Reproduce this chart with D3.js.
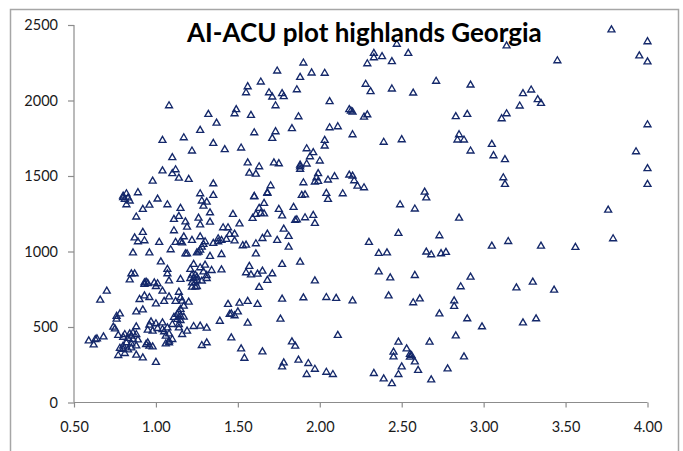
<!DOCTYPE html>
<html>
<head>
<meta charset="utf-8">
<script src="https://cdn.jsdelivr.net/npm/d3@7"></script>
<style>
html, body { margin: 0; padding: 0; background: #fff; overflow: hidden; }
</style>
</head>
<body>
<div id="chart"></div>
<script>
const titleText = "AI-ACU plot highlands Georgia"
const xTicks = [0.5, 1, 1.5, 2, 2.5, 3, 3.5, 4]
const yTicks = [0, 500, 1000, 1500, 2000, 2500]

// same order in both arrays
const aiValues = [
	3.78, 4.00, 3.95, 4.00, 3.45, 3.14, 2.47, 2.54, 2.33, 2.33,
	2.38, 2.44, 2.29, 2.71, 2.92, 2.28, 2.31, 2.44, 2.57, 3.29,
	3.24, 3.33, 3.35, 3.22, 3.14, 3.11, 2.90, 2.83, 2.29, 2.27,
	2.19, 2.20, 4.00, 2.20, 2.39, 2.50, 2.85, 2.84, 2.88, 2.92,
	3.05, 3.06, 3.13, 3.93, 4.00, 4.00, 3.12, 3.13, 2.20, 2.21,
	2.23, 2.27, 2.64, 2.65, 2.49, 2.58, 3.76, 2.85,
	2.48, 2.73, 2.30, 2.36, 2.41, 2.65, 2.68, 2.74, 2.77, 3.05,
	3.15, 3.35, 3.56, 3.79, 2.36, 2.43, 2.58, 2.92, 2.86, 3.20,
	3.30, 3.43, 2.20, 2.42, 2.57, 2.61, 2.82, 2.82, 2.73, 2.90,
	2.99, 3.24, 3.32, 2.83, 2.67, 2.48, 2.53, 2.45, 2.45, 2.55,
	2.55, 2.56, 2.58, 2.88, 2.50, 2.60, 2.78, 2.33, 2.48, 2.39,
	2.44, 2.68,
	1.60, 1.68, 1.89, 1.91, 2.04, 2.14, 2.05, 1.66, 1.84, 1.75,
	1.77, 1.63, 1.64, 1.66, 1.61, 1.59, 1.47, 1.51, 1.85, 1.86,
	1.91, 1.96, 1.97, 1.78, 1.81, 1.74, 1.81, 1.68, 1.65, 1.48,
	1.48, 1.61, 1.53, 1.55, 1.61, 1.77, 1.88, 1.57, 1.55, 1.58,
	1.62, 1.65, 1.71, 1.68, 1.63, 1.97, 1.77, 1.90, 2.04, 2.10,
	1.51, 1.56, 1.62, 1.50, 1.48, 1.46, 1.56, 1.76, 2.11, 1.83,
	1.85, 1.46, 1.52, 1.54, 1.65, 1.78, 1.77, 1.87, 1.93, 1.97,
	1.92, 2.04, 2.08,
	1.90, 1.74, 1.95, 2.03, 1.64, 1.88, 1.86, 1.56, 1.55, 1.69,
	1.71, 1.77, 1.78, 1.73, 2.06, 2.18, 1.08, 1.32, 1.49, 1.48,
	1.58, 1.37, 1.87, 2.06, 2.11, 1.27, 1.60, 1.73, 1.83, 1.71,
	1.04, 1.17, 1.35, 1.22, 1.42, 1.52, 2.03, 2.03, 1.92, 1.96,
	1.94, 2.00, 1.92, 1.88, 1.88, 1.88, 1.10, 1.04, 1.12, 1.10,
	1.14, 1.20, 0.98, 1.35, 1.56, 1.63, 1.57, 1.61, 1.72, 1.75,
	1.70, 1.68, 1.60, 1.99, 1.98, 1.97, 1.99, 1.90, 2.05, 2.09,
	2.18, 0.89, 0.80, 0.82, 0.80, 0.81, 0.83, 0.84, 0.82, 1.01,
	0.96, 1.07, 0.92, 1.15, 1.27, 1.35, 1.28, 1.31, 1.29,
	0.88, 1.11, 1.14, 1.18, 1.19, 1.11, 0.92, 0.87, 0.89, 0.93,
	1.02, 1.17, 1.12, 1.15, 1.16, 1.22, 1.27, 1.30, 1.35, 1.38,
	1.40, 1.38, 1.41, 1.44, 1.26, 1.27, 1.33, 1.33, 1.45, 1.43,
	0.86, 0.96, 1.09, 1.18, 1.19, 1.26, 1.27, 1.28, 1.29, 1.25,
	1.33, 1.40, 1.03, 1.07, 1.07, 0.85, 0.87, 0.84, 1.08, 1.15,
	1.23, 1.21, 1.27, 1.30, 1.29, 1.34, 1.40, 1.31, 1.31,
	1.22, 1.24, 1.25, 1.21, 1.23, 1.25, 1.28, 1.22, 1.24, 1.22,
	1.24, 1.25, 0.93, 0.94, 0.93, 0.95, 0.99, 1.01, 1.00, 1.04,
	1.14, 0.70, 0.66, 0.90, 0.93, 0.96, 1.08, 1.05, 1.00, 1.12,
	1.15, 1.16, 1.20, 1.17, 1.44, 0.88, 0.92, 1.45, 0.76, 0.78,
	0.76, 1.15, 1.14, 1.13, 1.11, 1.15, 1.17, 1.15, 1.13, 1.10,
	1.14, 1.14, 1.39, 1.23, 1.27, 1.31, 1.19, 1.16, 0.74, 0.75,
	0.88, 0.97, 1.00, 1.04, 0.95, 0.98, 0.96, 1.01, 1.04, 1.07,
	1.05, 1.08, 1.06, 1.10, 1.08, 1.06, 1.08, 0.95, 0.94, 0.96,
	0.98, 1.28, 1.31, 0.59, 0.62, 0.63, 0.64, 0.68,
	0.77, 0.80, 0.81, 0.84, 0.86, 0.85, 0.88, 0.83, 0.86, 0.89,
	0.82, 0.85, 0.88, 0.78, 0.80, 0.80, 0.83, 0.85, 0.81, 0.77,
	0.88, 0.92, 1.00
]
const acuValues = [
	2474, 2396, 2302, 2262, 2270, 2368, 2379, 2319, 2319, 2290,
	2297, 2264, 2250, 2134, 2109, 2114, 2065, 2083, 2056, 2076,
	2052, 2012, 1988, 1970, 1919, 1886, 1915, 1900, 1912, 1897,
	1937, 1930, 1846, 1780, 1730, 1747, 1780, 1745, 1745, 1672,
	1716, 1641, 1615, 1667, 1555, 1451, 1495, 1451, 1506, 1475,
	1440, 1429, 1400, 1362, 1316, 1288, 1281, 1228,
	1127, 1111, 1067, 994, 998, 1003, 985, 992, 1001, 1042,
	1073, 1042, 1034, 1091, 872, 832, 848, 837, 773, 766,
	804, 751, 680, 713, 667, 693, 680, 643, 594, 561,
	508, 534, 561, 448, 406, 406, 362, 340, 309, 325,
	307, 318, 276, 309, 243, 219, 229, 199, 192, 163,
	132, 156,
	1372, 1392, 1378, 1382, 1392, 1389, 1352, 1325, 1299, 1286,
	1243, 1292, 1259, 1256, 1252, 1226, 1252, 1190, 1213, 1217,
	1230, 1246, 1193, 1155, 1107, 1080, 1036, 1122, 1093, 1122,
	1077, 1058, 1045, 1049, 991, 921, 936, 908, 866, 852,
	857, 877, 859, 815, 769, 812, 691, 700, 702, 696,
	665, 676, 656, 607, 581, 594, 532, 559, 451, 408,
	380, 435, 362, 300, 342, 269, 243, 287, 265, 227,
	192, 207, 192,
	2255, 2202, 2189, 2187, 2129, 2160, 2078, 2098, 2058, 2058,
	2030, 2052, 2032, 1972, 1999, 1946, 1972, 1915, 1946, 1919,
	1908, 1857, 1899, 1826, 1833, 1809, 1793, 1800, 1820, 1756,
	1743, 1760, 1723, 1672, 1681, 1692, 1743, 1705, 1687, 1661,
	1634, 1606, 1586, 1579, 1551, 1568, 1628, 1541, 1548, 1522,
	1493, 1484, 1473, 1455, 1594, 1568, 1526, 1519, 1594, 1588,
	1442, 1396, 1369, 1522, 1495, 1467, 1471, 1462, 1480, 1502,
	1513, 1396, 1374, 1389, 1364, 1352, 1362, 1341, 1316, 1354,
	1314, 1316, 1286, 1292, 1389, 1378, 1341, 1334, 1307,
	1235, 1219, 1239, 1203, 1168, 1144, 1133, 1097, 1071, 1078,
	1067, 1104, 1067, 1071, 1064, 1080, 1104, 1071, 1060, 1091,
	1080, 1071, 1164, 1164, 1228, 1183, 1201, 1263, 1120, 1087,
	998, 998, 1018, 991, 991, 1003, 1016, 1036, 1054, 998,
	974, 987, 938, 888, 859, 859, 859, 819, 812, 822,
	921, 888, 899, 916, 872, 881, 885, 848, 828,
	850, 850, 837, 828, 828, 815, 811, 799, 799, 771,
	771, 775, 799, 804, 789, 795, 799, 793, 775, 744,
	737, 744, 685, 689, 713, 702, 706, 676, 660, 676,
	700, 678, 671, 645, 656, 607, 620, 590, 578, 594,
	559, 623, 605, 590, 570, 578, 572, 550, 557, 523,
	523, 501, 545, 510, 512, 499, 479, 457, 506, 494,
	508, 541, 528, 534, 486, 479, 519, 497, 490, 501,
	475, 461, 446, 424, 413, 395, 402, 402, 391, 380,
	375, 384, 402, 415, 388, 424, 428, 441,
	451, 439, 457, 461, 468, 446, 457, 431, 424, 421,
	402, 395, 382, 366, 380, 358, 355, 368, 331, 318,
	320, 302, 272
]

const width = 683
const height = 451
const axisColor = "#8c8c8c"
const markColor = "#14286a"

const svg = d3
	.select("#chart")
	.append("svg")
	.attr("width", width)
	.attr("height", height)
	.style("display", "block")

// outer chart frame, bottom edge is cropped off
svg.append("path")
	.attr("d", "M10.5,451V9.5H678.5V451")
	.attr("fill", "none")
	.attr("stroke", "#a6a6a6")
	.attr("stroke-width", 1.5)

const xScale = d3.scaleLinear().domain([0.5, 4]).range([74, 647.5])
const yScale = d3.scaleLinear().domain([0, 2500]).range([402.5, 25])

const xAxis = svg
	.append("g")
	.attr("transform", `translate(0,${yScale(0)})`)
	.call(
		d3
			.axisBottom(xScale)
			.tickValues(xTicks)
			.tickSize(5)
			.tickPadding(14)
			.tickFormat(d3.format(".2f"))
	)

const yAxis = svg
	.append("g")
	.attr("transform", `translate(${xScale(0.5)},0)`)
	.call(
		d3
			.axisLeft(yScale)
			.tickValues(yTicks)
			.tickSize(6)
			.tickPadding(10)
			.tickFormat(d3.format("d"))
	)

// Style axes
svg.selectAll("g path.domain, g .tick line")
	.style("stroke", axisColor)
	.style("stroke-width", "1.2px")

yAxis.select("path.domain").attr("d", `M0,${yScale(2500)}V${yScale(0)}`)
xAxis.select("path.domain").attr("d", `M${xScale(0.5)},0H${xScale(4)}`)

svg.selectAll("g .tick text")
	.style("font-family", "Lato")
	.style("font-size", "14.5px")
	.style("fill", "#1a1a1a")

// triangle centred on its bounding box, like the spreadsheet marker
const triangle = d3.symbol().type({
	draw(context, size) {
		const h = Math.sqrt(size)
		context.moveTo(0, -h / 2)
		context.lineTo(h * 0.58, h / 2)
		context.lineTo(-h * 0.58, h / 2)
		context.closePath()
	},
}).size(36)

svg.append("g")
	.selectAll("path")
	.data(aiValues)
	.join("path")
	.attr("d", triangle)
	.attr("transform", (d, i) => `translate(${xScale(d)},${yScale(acuValues[i])})`)
	.attr("fill", "none")
	.attr("stroke", markColor)
	.attr("stroke-width", 1.35)

svg.append("text")
	.attr("x", 187)
	.attr("y", 42)
	.style("font-family", "Lato")
	.style("font-weight", "bold")
	.style("font-size", "26px")
	.style("fill", "#000")
	.text(titleText)
</script>
</body>
</html>
